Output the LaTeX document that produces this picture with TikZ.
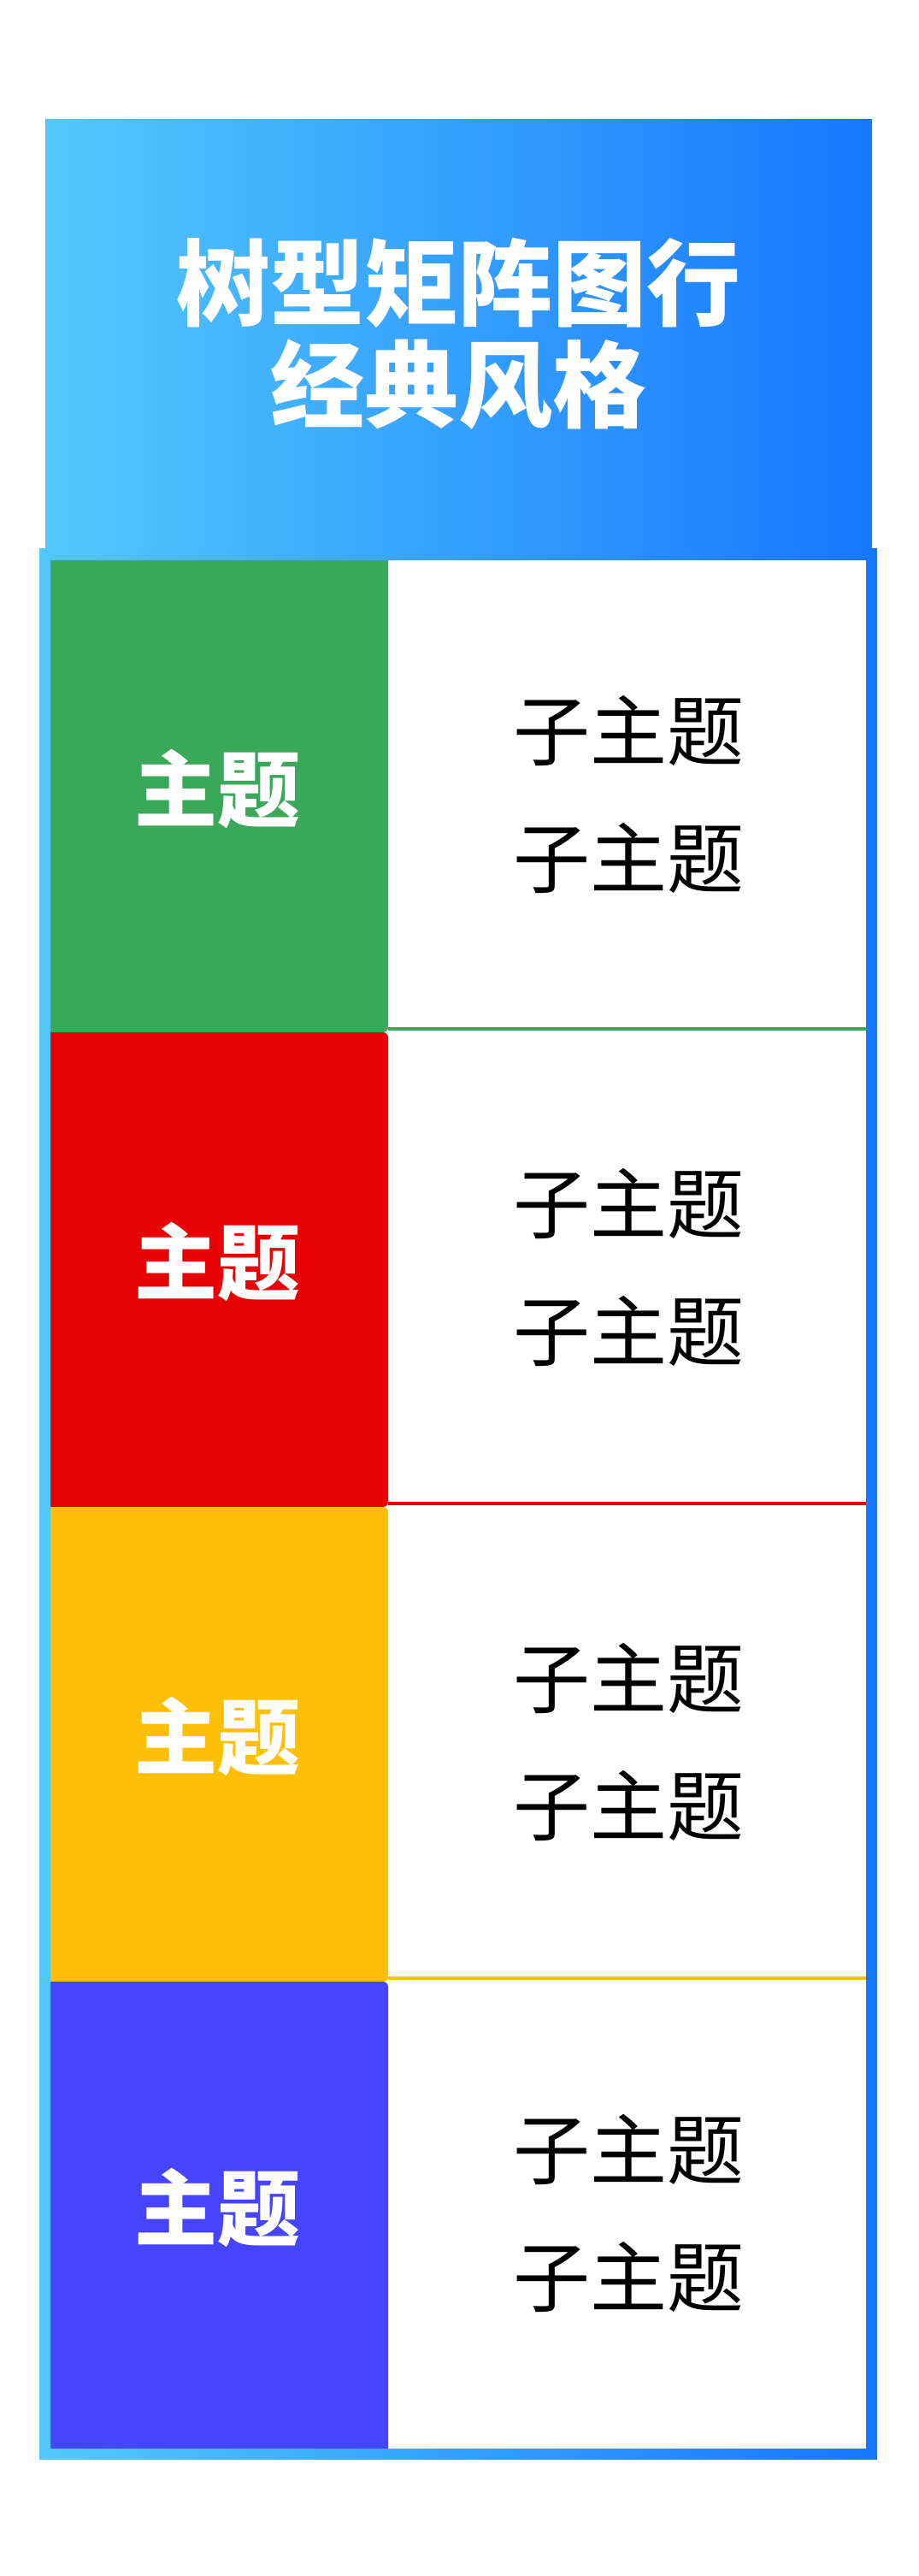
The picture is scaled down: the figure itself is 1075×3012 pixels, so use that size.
\documentclass[tikz,border=0pt]{standalone}
\usepackage{fontspec}
\newfontfamily\cjk{Noto Sans CJK SC}
\definecolor{hdrL}{RGB}{84,200,252}
\definecolor{hdrR}{RGB}{22,119,255}
\definecolor{cgreen}{RGB}{58,168,88}
\definecolor{cred}{RGB}{233,2,3}
\definecolor{cyellow}{RGB}{255,191,5}
\definecolor{cblue}{RGB}{70,68,255}
\tikzset{
  header/.style={inner sep=0pt, minimum width=483.5pt, minimum height=250.5pt,
    left color=hdrL, right color=hdrR, text=white, align=center,
    font=\cjk\bfseries\fontsize{55}{59.5}\selectfont},
  topic/.style={inner sep=0pt, minimum width=201pt,
    fill=#1, rounded corners=3pt},
  topictext/.style={inner sep=0pt, text=white, font=\cjk\bfseries\fontsize{48.5}{50}\selectfont},
  sub/.style={inner sep=0pt, text=black, font=\cjk\fontsize{45}{48}\selectfont},
  divider/.style={draw=#1, line width=2pt},
}
\begin{document}
\begin{tikzpicture}[x=0.5pt,y=-0.5pt]
\useasboundingbox (0,0) rectangle (1075,3012);
\fill[white] (0,0) rectangle (1075,3012);
% header
\node[header] (head) at (536.5,390.5) {树型矩阵图行\\经典风格};
% topic boxes
\node[topic=cgreen,  minimum height=279pt]   (t1) at (253,928)    {};
\node[topic=cred,    minimum height=277.5pt] (t2) at (253,1484.5) {};
\node[topic=cyellow, minimum height=277.5pt] (t3) at (253,2039.5) {};
\node[topic=cblue,   minimum height=276pt]   (t4) at (253,2593)   {};
\foreach \i/\y in {1/931,2/1484.5,3/2039.5,4/2590}{
  \node[topictext] (l\i) at (254,\y-9) {主题};
  \node[sub] (s\i a) at (735,\y-77) {子主题};
  \node[sub] (s\i b) at (735,\y+72) {子主题};
}
% dividers
\coordinate (e1) at (1013,1203);
\coordinate (e2) at (1013,1758);
\coordinate (e3) at (1013,2313);
\draw[divider=cgreen]  (t1.east |- e1) -- (e1);
\draw[divider=cred]    (t2.east |- e2) -- (e2);
\draw[divider=cyellow] (t3.east |- e3) -- (e3);
% frame
\shade[left color=hdrL, right color=hdrR, even odd rule]
  (46,641) rectangle (1026,2876) (59,655) rectangle (1013,2863);
\end{tikzpicture}
\end{document}
